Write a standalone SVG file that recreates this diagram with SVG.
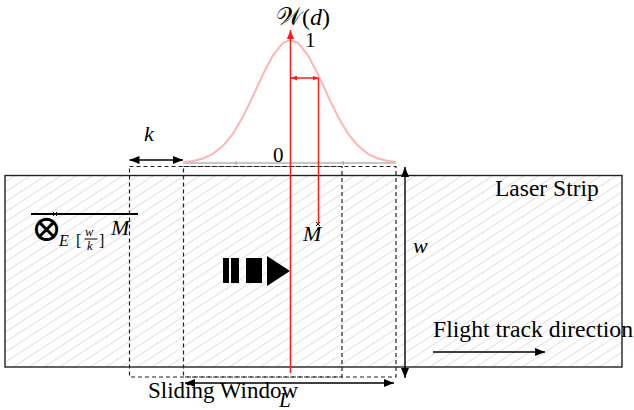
<svg xmlns="http://www.w3.org/2000/svg" width="634" height="410" viewBox="0 0 634 410">
<style>
.t{font-family:"Liberation Serif","DejaVu Serif",serif;fill:#000}
.i{font-style:italic}
.dash{fill:none;stroke:#222;stroke-width:1.2;stroke-dasharray:4 3}
.blk{stroke:#000;stroke-width:1.4;fill:none}
.red{stroke:#ff1a1a;stroke-width:1.5;fill:none}
</style>
<defs>
<pattern id="hatch" patternUnits="userSpaceOnUse" width="10" height="8.4" patternTransform="rotate(-33)">
<line x1="0" y1="4.2" x2="10" y2="4.2" stroke="#e0e0e0" stroke-width="1"/>
</pattern>
<marker id="ah" viewBox="0 0 10 8" refX="10" refY="4" markerWidth="10" markerHeight="8" markerUnits="userSpaceOnUse" orient="auto-start-reverse">
<path d="M0,0 L10,4 L0,8 Z" fill="#000"/>
</marker>
<marker id="ahr" viewBox="0 0 10 8" refX="10" refY="4" markerWidth="9" markerHeight="8" markerUnits="userSpaceOnUse" orient="auto-start-reverse">
<path d="M0,0 L10,4 L0,8 Z" fill="#ff1a1a"/>
</marker>
<marker id="ahs" viewBox="0 0 10 8" refX="10" refY="4" markerWidth="6" markerHeight="5" markerUnits="userSpaceOnUse" orient="auto-start-reverse">
<path d="M0,0 L10,4 L0,8 Z" fill="#ff1a1a"/>
</marker>
</defs>
<rect width="634" height="410" fill="#fff"/>

<g id="laser-strip">
<rect x="5" y="175.5" width="617" height="191.5" fill="url(#hatch)" stroke="#222" stroke-width="1.4"/>
<text class="t" x="495" y="196" font-size="23.5">Laser Strip</text>
</g>

<g id="gaussian">
<line x1="183" y1="163" x2="396" y2="163" stroke="#b5b5b5" stroke-width="1.6"/>
<g stroke="#999" stroke-width="1">
<line x1="236" y1="161" x2="236" y2="165"/>
<line x1="343" y1="161" x2="343" y2="165"/>
</g>
<polyline fill="none" stroke="#ffb4b4" stroke-width="2" points="183,162.2 193,161 203,158.5 213,153.9 223,145.9 233,133.6 243,116.7 253,96.1 263,74.3 273,55.3 283,42.9 290.5,40 298,42.9 308,55.3 318,74.3 328,96.1 338,116.7 348,133.6 358,145.9 368,153.9 378,158.5 388,161 396,162"/>
<text class="t" x="276" y="25" font-size="24"><tspan font-family="DejaVu Serif" font-size="25">𝒲</tspan>(<tspan class="i">d</tspan>)</text>
<text class="t" x="305" y="47" font-size="21">1</text>
<text class="t" x="273" y="162" font-size="21">0</text>
</g>

<g id="sliding-window">
<rect class="dash" x="129.5" y="166.5" width="212.5" height="210.5"/>
<rect class="dash" x="183.5" y="166.5" width="212.5" height="210.5"/>
<text class="t" x="148" y="398" font-size="23">Sliding Window</text>
<text class="t i" x="279" y="407" font-size="21">L</text>
</g>

<g id="aggregate">
<line x1="31" y1="214" x2="138" y2="214" stroke="#000" stroke-width="2"/>
<g stroke="#000" stroke-width="1"><line x1="53" y1="212" x2="57" y2="216"/><line x1="57" y1="212" x2="53" y2="216"/></g>
<text class="t" x="31" y="241" font-size="37" font-family="DejaVu Serif">⊗</text>
<text class="t i" x="59" y="246" font-size="16">E</text>
<text class="t" x="76" y="246" font-size="16">[</text>
<text class="t i" x="85" y="236" font-size="12.5">w</text>
<line x1="84.5" y1="239" x2="97.5" y2="239" stroke="#000" stroke-width="1"/>
<text class="t i" x="87" y="250" font-size="12.5">k</text>
<text class="t" x="99" y="246" font-size="16">]</text>
<text class="t i" x="111" y="235" font-size="22">M</text>
</g>

<g id="point-m">
<g stroke="#000" stroke-width="1"><line x1="316" y1="222" x2="320" y2="226"/><line x1="320" y1="222" x2="316" y2="226"/></g>
<text class="t i" x="303" y="241" font-size="22">M</text>
</g>

<g id="block-arrow" fill="#000">
<rect x="223" y="258" width="6" height="25"/>
<rect x="231" y="258" width="8" height="25"/>
<rect x="246" y="258" width="16" height="25"/>
<path d="M267,256 L290,271 L267,286 Z"/>
</g>

<g id="labels">
<text class="t i" x="144" y="141" font-size="22">k</text>
<text class="t i" x="413" y="253" font-size="22">w</text>
<text class="t" x="433" y="337" font-size="23.7">Flight track direction</text>
</g>

<g id="connectors">
<line class="blk" x1="129.5" y1="160" x2="183" y2="160" marker-start="url(#ah)" marker-end="url(#ah)"/>
<line class="blk" x1="405" y1="167" x2="405" y2="378" marker-start="url(#ah)" marker-end="url(#ah)"/>
<line class="blk" x1="185" y1="383" x2="394" y2="383" marker-start="url(#ah)" marker-end="url(#ah)"/>
<line class="blk" x1="433" y1="352" x2="545" y2="352" marker-end="url(#ah)"/>
<line class="red" x1="290.5" y1="373" x2="290.5" y2="30" marker-end="url(#ahr)"/>
<line class="red" x1="318.5" y1="78" x2="318.5" y2="224"/>
<line class="red" x1="291" y1="78" x2="318.5" y2="78" marker-start="url(#ahs)" marker-end="url(#ahs)"/>
</g>
</svg>
